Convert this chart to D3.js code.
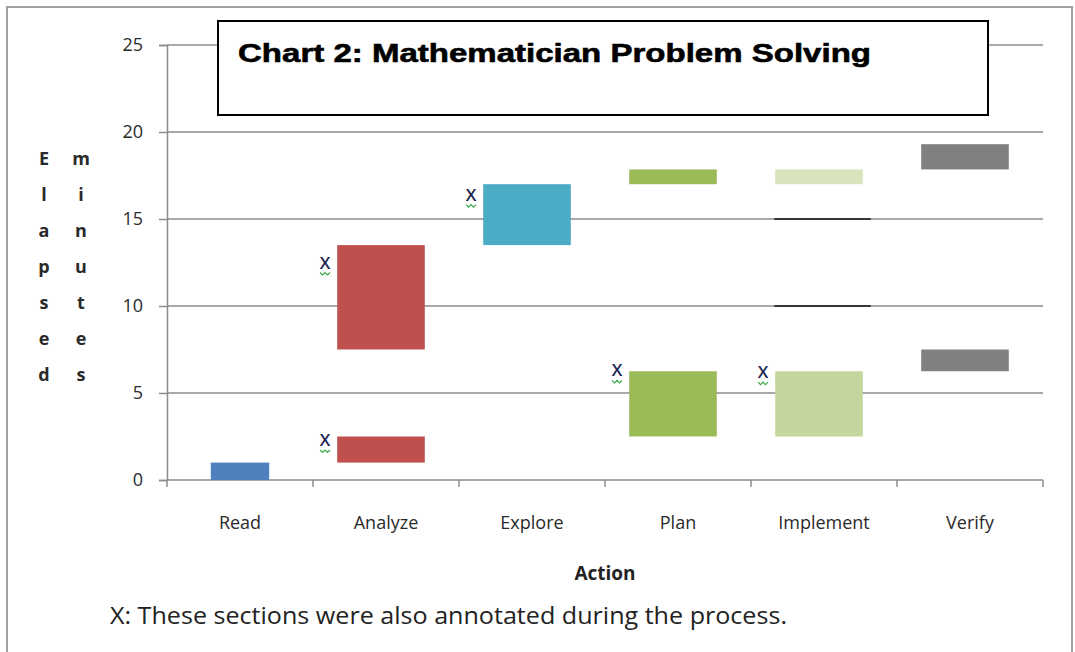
<!DOCTYPE html>
<html>
<head>
<meta charset="utf-8">
<script src="https://cdn.jsdelivr.net/npm/d3@7"></script>
<style>
  body { margin: 0; background: #fff; }
  svg { display: block; }
  .tick-lbl { font-family: "Open Sans", "Noto Sans", sans-serif; font-size: 18px; fill: #2a2a2a; }
</style>
</head>
<body>
<svg id="chart" width="1075" height="652"></svg>
<script>
// categories along the x axis
var actions = ["Read", "Analyze", "Explore", "Plan", "Implement", "Verify"];
// elapsed-minute segments: [action, start, end]
var segAction = ["Read", "Analyze", "Analyze", "Explore", "Plan", "Plan", "Implement", "Implement", "Verify", "Verify"];
var segStart  = [0,      1,         7.5,       13.5,      2.5,    17,     2.5,         17,          6.25,     17.85];
var segEnd    = [1,      2.5,       13.5,      17,        6.25,   17.85,  6.25,        17.85,       7.5,      19.3];
var segShade  = ["read", "analyze", "analyze", "explore", "plan", "plan", "impl", "implLight", "verify", "verify"];
// very short events drawn as lines
var tickAction = ["Implement", "Implement"];
var tickValue  = [15, 10];
// annotated sections (X marks)
var noteAction = ["Analyze", "Analyze", "Explore", "Plan", "Implement"];
var noteValue  = [12.5, 2.3, 16.4, 6.3, 6.2];
var yTicks = [0, 5, 10, 15, 20, 25];

var colors = {
  read: "#4f81bd", analyze: "#c0504d", explore: "#4bacc6", plan: "#9bbb59",
  impl: "#c3d69b", implLight: "#d7e4bd", verify: "#808080"
};

var svg = d3.select("#chart");
var mLeft = 167, mRight = 1043, mTop = 45, mBottom = 480;

var x = d3.scaleBand().domain(actions).range([mLeft, mRight]);
var y = d3.scaleLinear().domain([0, 25]).range([mBottom, mTop]);
var bw = x.bandwidth();

// outer frame
svg.append("rect").attr("x", 7).attr("y", 7).attr("width", 1065).attr("height", 660)
  .attr("fill", "#fff").attr("stroke", "#a0a0a0").attr("stroke-width", 2);

// gridlines
svg.append("g").selectAll("line").data(yTicks.filter(function(d) { return d > 0; }))
  .enter().append("line")
  .attr("x1", mLeft).attr("x2", mRight)
  .attr("y1", function(d) { return y(d); }).attr("y2", function(d) { return y(d); })
  .attr("stroke", "#8c8c8c").attr("stroke-width", 1.3);

// y axis
var yAxis = svg.append("g").attr("transform", "translate(" + mLeft + ",0)")
  .call(d3.axisLeft(y).tickValues(yTicks).tickSize(8).tickPadding(16));
yAxis.attr("font-size", null).attr("font-family", null);
yAxis.select(".domain").attr("stroke", "#8c8c8c").attr("stroke-width", 1.5);
yAxis.selectAll(".tick line").attr("stroke", "#8c8c8c").attr("stroke-width", 1.5);
yAxis.selectAll("text").attr("class", "tick-lbl").attr("fill", null);

// x axis: ticks at category boundaries
var xg = svg.append("g");
xg.append("line").attr("x1", mLeft).attr("x2", mRight).attr("y1", mBottom).attr("y2", mBottom)
  .attr("stroke", "#8c8c8c").attr("stroke-width", 1.5);
var edges = actions.map(function(a) { return x(a); }).concat([mRight]);
xg.selectAll("line.tk").data(edges).enter().append("line").attr("class", "tk")
  .attr("x1", function(d) { return d; }).attr("x2", function(d) { return d; })
  .attr("y1", mBottom).attr("y2", mBottom + 7)
  .attr("stroke", "#8c8c8c").attr("stroke-width", 1.5);
xg.selectAll("text").data(actions).enter().append("text").attr("class", "tick-lbl")
  .attr("x", function(d) { return x(d) + bw / 2; }).attr("y", 529)
  .attr("text-anchor", "middle").text(function(d) { return d; });

// bars
function barW(a) { return a === "Read" ? bw * 0.4 : bw * 0.6; }
function barX(a) { return a === "Read" ? x(a) + bw * 0.3 : x(a) + bw * 0.2 - 5; }
svg.append("g").selectAll("rect").data(d3.range(segAction.length)).enter().append("rect")
  .attr("x", function(i) { return barX(segAction[i]); })
  .attr("width", function(i) { return barW(segAction[i]); })
  .attr("y", function(i) { return y(segEnd[i]); })
  .attr("height", function(i) { return y(segStart[i]) - y(segEnd[i]); })
  .attr("fill", function(i) { return colors[segShade[i]]; });

svg.append("g").selectAll("line").data(d3.range(tickAction.length)).enter().append("line")
  .attr("x1", function(i) { return barX(tickAction[i]) - 1; })
  .attr("x2", function(i) { return barX(tickAction[i]) + barW(tickAction[i]) + 8; })
  .attr("y1", function(i) { return y(tickValue[i]); })
  .attr("y2", function(i) { return y(tickValue[i]); })
  .attr("stroke", "#111").attr("stroke-width", 1.5);

// X annotations with squiggle
var notes = svg.append("g").selectAll("g").data(d3.range(noteAction.length)).enter().append("g")
  .attr("transform", function(i) { return "translate(" + (x(noteAction[i]) + 12) + "," + y(noteValue[i]) + ")"; });
notes.append("rect").attr("x", -7).attr("y", -8).attr("width", 14).attr("height", 22).attr("fill", "#fff");
notes.append("text").attr("text-anchor", "middle").attr("y", 6)
  .attr("font-family", "Open Sans, sans-serif").attr("font-size", 17).attr("font-weight", 600)
  .attr("fill", "#1c2450")
  .text("X");
notes.append("path").attr("d", "M-5,10 l2.5,2.5 l2.5,-2.5 l2.5,2.5 l2.5,-2.5")
  .attr("fill", "none").attr("stroke", "#3aa84a").attr("stroke-width", 1.2);

// title box
svg.append("rect").attr("x", 218).attr("y", 21).attr("width", 770).attr("height", 94)
  .attr("fill", "#fff").attr("stroke", "#000").attr("stroke-width", 2);
svg.append("text").attr("x", 238).attr("y", 62)
  .attr("font-family", "Liberation Sans, Arial, sans-serif").attr("font-weight", "bold")
  .attr("font-size", 26).attr("fill", "#000")
  .attr("textLength", 633).attr("lengthAdjust", "spacingAndGlyphs")
  .attr("stroke", "#000").attr("stroke-width", 0.6)
  .text("Chart 2: Mathematician Problem Solving");

// y axis title, letters stacked
var words = ["Elapsed", "minutes"];
var yt = svg.append("g").attr("font-family", "Open Sans, sans-serif").attr("font-weight", "bold")
  .attr("font-size", 18).attr("fill", "#2a2a2a").attr("text-anchor", "middle");
words.forEach(function(w, k) {
  w.split("").forEach(function(ch, j) {
    yt.append("text").attr("x", 44 + k * 37).attr("y", 165 + j * 36).text(ch);
  });
});

// x axis title
svg.append("text").attr("x", 605).attr("y", 580).attr("text-anchor", "middle")
  .attr("font-family", "Open Sans, sans-serif").attr("font-weight", "bold")
  .attr("font-size", 19).attr("fill", "#222").text("Action");

// footnote
svg.append("text").attr("x", 110).attr("y", 624)
  .attr("font-family", "Open Sans, sans-serif").attr("font-size", 23).attr("fill", "#222")
  .attr("textLength", 677).attr("lengthAdjust", "spacingAndGlyphs")
  .text("X: These sections were also annotated during the process.");
</script>
</body>
</html>
